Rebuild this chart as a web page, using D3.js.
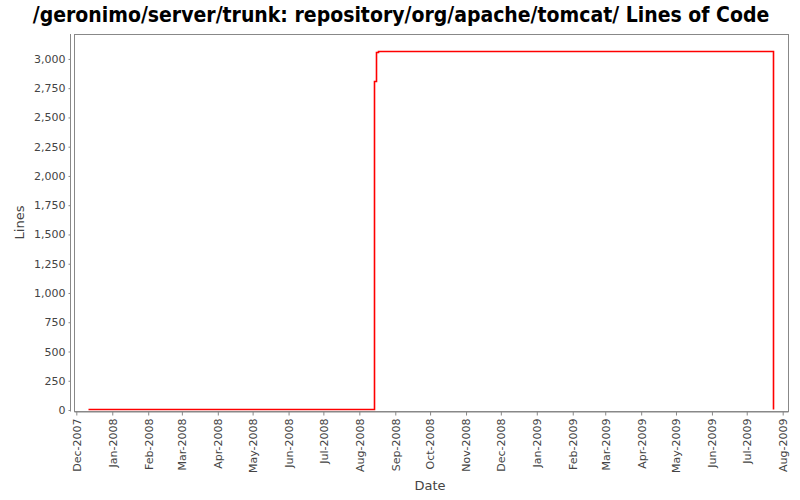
<!DOCTYPE html>
<html>
<head>
<meta charset="utf-8">
<script src="https://cdn.jsdelivr.net/npm/d3@7"></script>
<style>
  html, body { margin: 0; padding: 0; background: #fff; }
  svg { display: block; }
</style>
</head>
<body>
<svg id="chart" width="800" height="500"></svg>
<script>
// ---- data ----
const title = "/geronimo/server/trunk: repository/org/apache/tomcat/ Lines of Code";
const xLabel = "Date";
const yLabel = "Lines";
const dates = ["2007-12-11", "2008-08-14", "2008-08-15", "2008-08-17", "2009-07-24"];
const lines = [3, 2806, 3049, 3057, 0];
const yTicks = [0, 250, 500, 750, 1000, 1250, 1500, 1750, 2000, 2250, 2500, 2750, 3000];

// ---- layout ----
const W = 800, H = 500;
const plot = { left: 74, top: 34, right: 788, bottom: 411 };
const parse = d3.utcParse("%Y-%m-%d");
const data = dates.map((d, i) => ({ date: parse(d), value: lines[i] }));

const svg = d3.select("#chart");

const x = d3.scaleUtc()
  .domain([Date.UTC(2007, 10, 29, 0), Date.UTC(2009, 7, 5, 14)])
  .range([plot.left, plot.right]);
const y = d3.scaleLinear()
  .domain([-8.5, 3213])
  .range([plot.bottom, plot.top]);

// title
svg.append("text")
  .attr("x", 401).attr("y", 22)
  .attr("text-anchor", "middle")
  .style("font-family", "'DejaVu Sans Condensed', 'DejaVu Sans', sans-serif")
  .style("font-stretch", "condensed")
  .style("font-weight", "bold")
  .style("font-size", "21px")
  .attr("fill", "#000")
  .text(title);

// plot background & outline
svg.append("rect")
  .attr("x", plot.left + 0.5).attr("y", plot.top + 0.5)
  .attr("width", plot.right - plot.left).attr("height", plot.bottom - plot.top)
  .attr("fill", "#fff").attr("stroke", "#888").attr("stroke-width", 1);

// y axis
const yAxis = d3.axisLeft(y).tickValues(yTicks).tickFormat(d3.format(",")).tickSizeInner(2).tickSizeOuter(0).tickPadding(3);
const gy = svg.append("g").attr("transform", `translate(${plot.left - 3.5},0)`).call(yAxis);
gy.select(".domain").attr("stroke", "#888").attr("d", `M0,${plot.top}V${plot.bottom + 0.5}`);
gy.selectAll(".tick line").attr("stroke", "#888");
gy.selectAll("text").style("font-family", "'DejaVu Sans', sans-serif").style("font-size", "11px").attr("fill", "#444");

// x axis
const xAxis = d3.axisBottom(x).ticks(d3.utcMonth.every(1)).tickFormat(d3.utcFormat("%b-%Y")).tickSizeInner(4).tickSizeOuter(0).tickPadding(3);
const gx = svg.append("g").attr("transform", `translate(0,${plot.bottom + 0.5})`).call(xAxis);
gx.select(".domain").attr("stroke", "#888");
gx.selectAll(".tick line").attr("stroke", "#888");
gx.selectAll("text")
  .style("font-family", "'DejaVu Sans', sans-serif").style("font-size", "11px").attr("fill", "#444")
  .attr("transform", "rotate(-90)")
  .attr("text-anchor", "end")
  .attr("x", -7).attr("y", 0).attr("dy", "0.35em");

// axis labels
svg.append("text")
  .attr("x", 430).attr("y", 490)
  .attr("text-anchor", "middle")
  .style("font-family", "'DejaVu Sans', sans-serif").style("font-size", "13px")
  .attr("fill", "#444")
  .text(xLabel);
svg.append("text")
  .attr("transform", `translate(24,${(plot.top + plot.bottom) / 2}) rotate(-90)`)
  .attr("text-anchor", "middle")
  .style("font-family", "'DejaVu Sans', sans-serif").style("font-size", "13px")
  .attr("fill", "#444")
  .text(yLabel);

// line
const line = d3.line()
  .x(d => Math.round(x(d.date)) + 0.5)
  .y(d => Math.round(y(d.value)) - 0.5)
  .curve(d3.curveStepAfter);
svg.append("path")
  .datum(data)
  .attr("fill", "none")
  .attr("stroke", "#ff0000")
  .attr("stroke-width", 1.6)
  .attr("d", line);
</script>
</body>
</html>
